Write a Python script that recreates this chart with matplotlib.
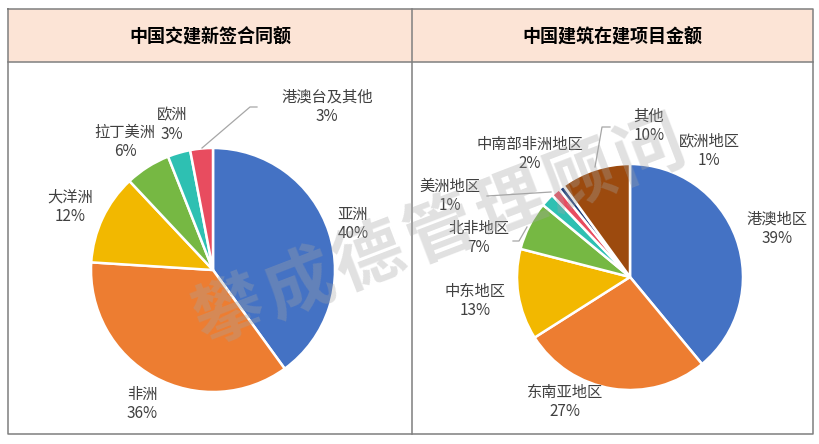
import numpy as np
import matplotlib
matplotlib.use("Agg")
import matplotlib.pyplot as plt
from matplotlib.patches import Rectangle

plt.rcParams['font.family'] = ['Noto Sans CJK SC', 'DejaVu Sans']

# left chart: 中国交建新签合同额
left_title = "中国交建新签合同额"
left_labels = ["亚洲", "非洲", "大洋洲", "拉丁美洲", "欧洲", "港澳台及其他"]
left_values = [40, 36, 12, 6, 3, 3]

# right chart: 中国建筑在建项目金额
right_title = "中国建筑在建项目金额"
right_labels = ["港澳地区", "东南亚地区", "中东地区", "北非地区",
                "中南部非洲地区", "美洲地区", "欧洲地区", "其他"]
right_values = [39, 27, 13, 7, 1.9, 1.3, 0.8, 10]

W, H = 820, 444
C_BLUE, C_ORANGE, C_YELLOW, C_GREEN = "#4472C4", "#ED7D31", "#F2B800", "#76B843"
C_TEAL, C_RED, C_NAVY, C_BROWN = "#2EC0B2", "#E84C5F", "#203F7A", "#9C4A0E"
left_colors = [C_BLUE, C_ORANGE, C_YELLOW, C_GREEN, C_TEAL, C_RED]
right_colors = [C_BLUE, C_ORANGE, C_YELLOW, C_GREEN, C_TEAL, C_RED, C_NAVY, C_BROWN]

TXT = "#404040"
LINE = "#A6A6A6"

# label centres (pixels, origin top-left)
left_label_pos = [(353, 224), (142, 404), (70, 207), (125, 142), (172, 125), (327, 107)]
right_label_pos = [(777, 229), (565, 402), (475, 301), (479, 238),
                   (530, 154), (450, 196), (709, 151), (649, 126)]
left_leaders = {5: [(202, 148), (250, 107), (257, 107)]}
right_leaders = {5: [(487, 196), (551, 192)],
                 7: [(595, 167), (602, 127), (610, 127)],
                 3: [(513, 241), (519, 241), (527, 227)]}


def py(y):
    return H - y


fig = plt.figure(figsize=(W / 100, H / 100), dpi=100)
ax = fig.add_axes([0, 0, 1, 1])


def draw_pie(values, labels, colors, center, radius, label_pos, leaders):
    ax.pie(values, colors=colors, startangle=90, counterclock=False,
           center=(center[0], py(center[1])), radius=radius,
           wedgeprops=dict(edgecolor="white", linewidth=1.8))
    for i, (lab, v) in enumerate(zip(labels, values)):
        x, y = label_pos[i]
        ax.text(x, py(y), f"{lab}\n{round(v):.0f}%", ha="center", va="center",
                fontsize=11, color=TXT, linespacing=1.2, zorder=5)
    for pts in leaders.values():
        xs = [p[0] for p in pts]
        ys = [py(p[1]) for p in pts]
        ax.plot(xs, ys, color=LINE, lw=0.9, zorder=4)


# header band and frame
ax.add_patch(Rectangle((8, py(62)), 805, 53, facecolor="#FCE4D6",
                       edgecolor="none", zorder=0))
fc = "#7F7F7F"
ax.plot([8, 813, 813, 8, 8], [py(9), py(9), py(434), py(434), py(9)], color=fc, lw=1.1)
ax.plot([8, 813], [py(62), py(62)], color=fc, lw=1.1)
ax.plot([412, 412], [py(9), py(434)], color=fc, lw=1.1)

ax.text(210, py(37), left_title, ha="center", va="center", fontsize=13,
        fontweight="bold", color="black")
ax.text(612, py(37), right_title, ha="center", va="center", fontsize=13,
        fontweight="bold", color="black")

draw_pie(left_values, left_labels, left_colors, (213, 270), 122,
         left_label_pos, left_leaders)
draw_pie(right_values, right_labels, right_colors, (630, 277), 113,
         right_label_pos, right_leaders)

# watermark
wm = "攀成德管理顾问"
ang = np.deg2rad(21)
step = 75
cx, cy = 440, 232
for k, ch in enumerate(wm):
    d = (k - (len(wm) - 1) / 2) * step
    ax.text(cx + d * np.cos(ang), py(cy) + d * np.sin(ang), ch,
            ha="center", va="center", fontsize=50, fontweight="heavy",
            color="#A4A4A4", alpha=0.33, rotation=21, zorder=6)

ax.set_xlim(0, W)
ax.set_ylim(0, H)
ax.set_aspect("auto")
ax.axis("off")

fig.savefig("out.png", dpi=100)
